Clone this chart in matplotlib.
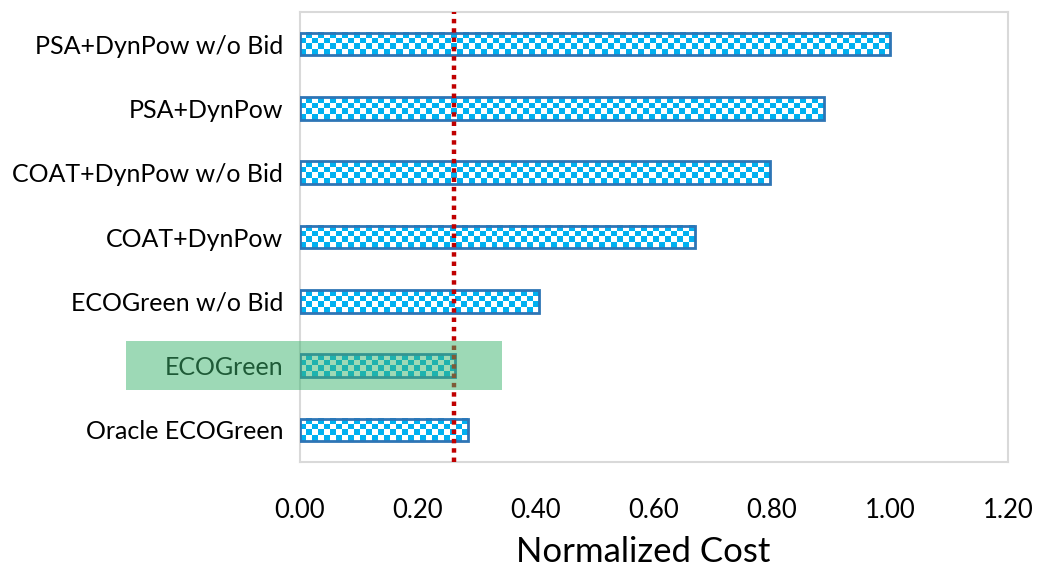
import numpy as np
import matplotlib
matplotlib.use("Agg")
import matplotlib.pyplot as plt
from matplotlib.colors import ListedColormap
from matplotlib.patches import Rectangle

plt.rcParams["font.family"] = ["Lato", "DejaVu Sans"]

# methods listed top to bottom, normalized cost per method
methods = [
    "PSA+DynPow w/o Bid",
    "PSA+DynPow",
    "COAT+DynPow w/o Bid",
    "COAT+DynPow",
    "ECOGreen w/o Bid",
    "ECOGreen",
    "Oracle ECOGreen",
]
cost = [1.00, 0.888, 0.796, 0.669, 0.405, 0.263, 0.284]
ref_cost = 0.261          # dotted reference line
xticks = [0.0, 0.2, 0.4, 0.6, 0.8, 1.0, 1.2]
highlight = "ECOGreen"
highlight_span = (-0.295, 0.343)

BAR_BLUE = "#00B0F0"
EDGE_BLUE = "#2E75B6"
LINE_RED = "#C00000"
GRID_GRAY = "#D9D9D9"

fig = plt.figure(figsize=(10.4, 5.72), dpi=100)
ax = fig.add_axes([0.2885, 0.1923, 0.6808, 0.7867])

h = 0.35
checker = ListedColormap(["white", BAR_BLUE])
cell = 0.0102
for y, v in enumerate(cost):
    nx = max(1, int(round(v / cell)))
    ii, jj = np.indices((4, nx))
    ax.imshow((ii + jj) % 2, cmap=checker, extent=(0, v, y + h / 2, y - h / 2),
              aspect="auto", interpolation="nearest", zorder=2)
ax.barh(range(len(methods)), cost, height=h, facecolor="none",
        edgecolor=EDGE_BLUE, linewidth=2, zorder=3)

ax.axvline(ref_cost, color=LINE_RED, linestyle=(0, (1, 1.1)), linewidth=3.2,
           zorder=4, clip_on=False)

ax.set_xlim(0, 1.2)
ax.set_ylim(len(methods) - 0.5, -0.5)
ax.set_xticks(xticks)
ax.set_xticklabels([f"{t:.2f}" for t in xticks], fontsize=18.5)
ax.set_yticks(range(len(methods)))
ax.set_yticklabels(methods, fontsize=18)
ax.tick_params(axis="x", length=0, pad=26)
ax.tick_params(axis="y", length=0, pad=12)
ax.set_xlabel("Normalized Cost", fontsize=25)
ax.xaxis.set_label_coords(0.484, -0.165)
for s in ax.spines.values():
    s.set_color(GRID_GRAY)
    s.set_linewidth(1.5)

# highlight band over the proposed method
yi = methods.index(highlight)
ax.add_patch(Rectangle((highlight_span[0], yi - 0.375),
                       highlight_span[1] - highlight_span[0], 0.75,
                       facecolor=(0.24, 0.71, 0.43), alpha=0.5,
                       edgecolor="none", clip_on=False, zorder=6))

fig.savefig("out.png", dpi=100)
